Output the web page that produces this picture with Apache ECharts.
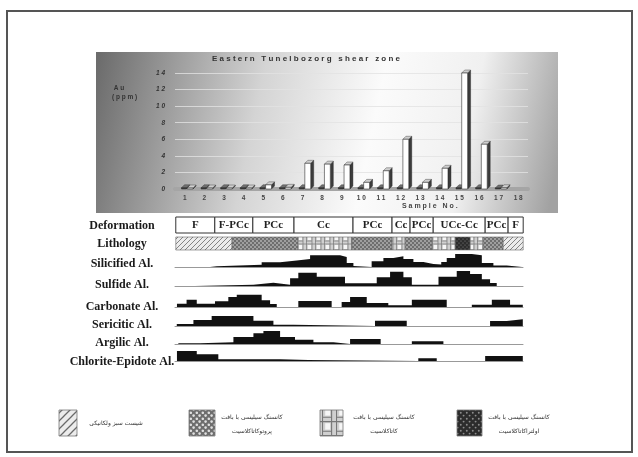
<!DOCTYPE html>
<html>
<head>
<meta charset="utf-8">
<script src="https://cdn.jsdelivr.net/npm/echarts@6/dist/echarts.min.js"></script>
<style>
html, body { margin: 0; padding: 0; background: #fff; }
#chart { width: 638px; height: 457px; }
</style>
</head>
<body>
<div id="chart"></div>
<script>
// --- data ---
var samples = ['1', '2', '3', '4', '5', '6', '7', '8', '9', '10', '11', '12', '13', '14', '15', '16', '17', '18']
var auValues = [0.1, 0.1, 0.1, 0.1, 0.5, 0.2, 3.1, 3.0, 2.9, 0.8, 2.2, 6.0, 0.8, 2.5, 14.0, 5.4, 0.15, null]
var baseValues = [0.15, 0.15, 0.15, 0.15, 0.15, 0.15, 0.15, 0.15, 0.15, 0.15, 0.15, 0.15, 0.15, 0.15, 0.15, 0.15, 0.1, null]

// zones along the section, in sample-number units: [from, to, name]
var deformation = [
  [0.54, 2.53, 'F'], [2.53, 4.47, 'F-PCc'], [4.47, 6.57, 'PCc'], [6.57, 9.58, 'Cc'],
  [9.58, 11.57, 'PCc'], [11.57, 12.49, 'Cc'], [12.49, 13.67, 'PCc'], [13.67, 16.32, 'UCc-Cc'],
  [16.32, 17.49, 'PCc'], [17.49, 18.26, 'F']
]
var lithology = [
  [0.54, 3.41, 'schist'], [3.41, 6.78, 'proto'], [6.78, 9.53, 'cata'], [9.53, 11.57, 'proto'],
  [11.57, 12.24, 'cata'], [12.24, 13.62, 'proto'], [13.62, 14.79, 'cata'], [14.79, 15.56, 'ultra'],
  [15.56, 16.22, 'cata'], [16.22, 17.24, 'proto'], [17.24, 18.26, 'schist']
]

// alteration intensity profiles: [position, intensity] (step starts)
var silicified = [[0.59, 0], [2.29, 0.7], [2.63, 2.3], [4.92, 4.7], [5.86, 6.5], [6.71, 8], [7.39, 11.7], [8.92, 10],
  [9.26, 4], [9.6, 1], [9.68, 0], [10.53, 5.7], [11.13, 9], [11.64, 10.7], [12.15, 8], [12.66, 5], [13.17, 3],
  [13.68, 2.5], [14.08, 5], [14.36, 9], [14.79, 13], [15.64, 11.7], [16.15, 4], [16.74, 1.5], [17.42, 0], [18.2, 0]]
var sulfide = [[0.67, 0], [1.52, 1.3], [4.5, 3.3], [5.52, 1.3], [6.37, 7.7], [6.79, 13.3], [7.73, 9.3], [9.17, 2.7],
  [10.79, 8.7], [11.47, 14.3], [12.15, 8.7], [12.58, 1.3], [13.94, 9.3], [14.87, 15], [15.55, 12], [16.15, 6.7],
  [16.57, 3], [16.91, 0], [18.2, 0]]
var carbonate = [[0.6, 3.3], [1.09, 7.3], [1.61, 3.3], [2.54, 5.7], [3.22, 10], [3.65, 12.3], [4.92, 6.7], [5.35, 3],
  [5.69, 0], [6.79, 6], [8.49, 0], [9.0, 5], [9.43, 10], [10.28, 4], [11.38, 1.7], [12.58, 7.3], [14.36, 0],
  [15.64, 2.3], [16.66, 7.3], [17.59, 2.3], [18.24, 2.3]]
var sericitic = [[0.59, 2], [1.44, 6], [2.37, 10], [4.5, 5.3], [5.52, 1.3], [6.54, 0], [10.7, 5.3], [12.32, 0],
  [16.57, 5], [17.42, 6.7], [18.24, 6.7]]
var argilic = [[0.67, 0.7], [1.78, 1.7], [3.48, 7], [4.5, 10.7], [5.01, 13], [5.86, 7], [6.62, 4.3], [7.56, 1.7],
  [8.58, 0], [9.43, 5], [10.99, 0], [12.58, 2.7], [14.19, 0], [18.2, 0]]
var chlorite = [[0.6, 10], [1.61, 6.7], [2.71, 1.7], [5.86, 1], [7.3, 0], [12.91, 2.7], [13.85, 0], [16.32, 5], [18.24, 5]]

var profiles = [silicified, sulfide, carbonate, sericitic, argilic, chlorite]
var rowNames = ['Deformation', 'Lithology', 'Silicified Al.', 'Sulfide Al.', 'Carbonate Al.', 'Sericitic Al.', 'Argilic Al.', 'Chlorite-Epidote Al.']
var legendItems = [
  ['schist', ['شیست سبز ولکانیکی']],
  ['proto', ['کانسنگ سیلیسی با بافت', 'پروتوکاتاکلاسیت']],
  ['cata', ['کانسنگ سیلیسی با بافت', 'کاتاکلاسیت']],
  ['ultra', ['کانسنگ سیلیسی با بافت', 'اولتراکاتاکلاسیت']]
]

// --- layout ---
var plotLeft = 175
var plotWidth = 348
var profileBase = [267, 286, 307, 326, 344, 361]
var labelY = [226, 244, 264, 285, 307, 325, 343, 362]
var legendBox = [[59, 18], [189, 26], [320, 23], [457, 25]]
var legendTextX = [116, 252, 384, 519]

function makePattern (kind, s) {
  var c = document.createElement('canvas')
  var ctx = c.getContext('2d')
  var n
  if (kind === 'schist') {
    n = 5 * s
    c.width = c.height = n
    ctx.fillStyle = '#ececec'
    ctx.fillRect(0, 0, n, n)
    ctx.strokeStyle = '#6a6a6a'
    ctx.lineWidth = 0.8 * s
    ctx.beginPath()
    ctx.moveTo(0, n); ctx.lineTo(n, 0)
    ctx.moveTo(-1, 1); ctx.lineTo(1, -1)
    ctx.moveTo(n - 1, n + 1); ctx.lineTo(n + 1, n - 1)
    ctx.stroke()
  } else if (kind === 'proto') {
    n = 4 * s
    c.width = c.height = n
    ctx.fillStyle = '#6e6e6e'
    ctx.fillRect(0, 0, n, n)
    ctx.fillStyle = '#e0e0e0'
    ;[[1, 1], [3, 3]].forEach(function (p) {
      ctx.beginPath()
      ctx.arc(p[0] * s, p[1] * s, 0.8 * s, 0, Math.PI * 2)
      ctx.fill()
    })
  } else if (kind === 'cata') {
    n = 9 * s
    c.width = c.height = n
    ctx.fillStyle = '#d0d0d0'
    ctx.fillRect(0, 0, n, n)
    ctx.fillStyle = '#f6f6f6'
    ctx.fillRect(2 * s, 2 * s, 3 * s, 4 * s)
    ctx.strokeStyle = '#777'
    ctx.lineWidth = 0.7 * s
    ctx.beginPath()
    ctx.moveTo(0.5, 0); ctx.lineTo(0.5, n)
    ctx.moveTo(6 * s, 0); ctx.lineTo(6 * s, n)
    ctx.moveTo(0, 1 * s); ctx.lineTo(n, 1 * s)
    ctx.moveTo(0, 7 * s); ctx.lineTo(6 * s, 7 * s)
    ctx.stroke()
  } else {
    n = 4 * s
    c.width = c.height = n
    ctx.fillStyle = '#2c2c2c'
    ctx.fillRect(0, 0, n, n)
    ctx.fillStyle = '#8c8c8c'
    ;[[1, 1], [3, 3]].forEach(function (p) {
      ctx.beginPath()
      ctx.arc(p[0] * s, p[1] * s, 0.6 * s, 0, Math.PI * 2)
      ctx.fill()
    })
  }
  return { image: c, repeat: 'repeat' }
}

var patterns = {}
var bigPatterns = {}
;['schist', 'proto', 'cata', 'ultra'].forEach(function (k) {
  patterns[k] = makePattern(k, 1)
  bigPatterns[k] = makePattern(k, 1.6)
})

function spaced (s) {
  return String(s).split('').join(' ')
}

function bar3d (offset, widthRatio, front, side, top) {
  return function (params, api) {
    var v = api.value(1)
    var p = api.coord([api.value(0), v])
    var b = api.coord([api.value(0), 0])
    var band = api.size([1, 0])[0]
    var w = band * widthRatio
    var x0 = p[0] + band * offset - w / 2
    var x1 = x0 + w
    var ty = Math.min(p[1], b[1] - 1)
    var by = b[1]
    var d = 3
    return {
      type: 'group',
      children: [
        { type: 'polygon', shape: { points: [[x1, ty], [x1 + d, ty - d], [x1 + d, by - d], [x1, by]] }, style: { fill: side, stroke: '#222', lineWidth: 0.4 } },
        { type: 'polygon', shape: { points: [[x0, ty], [x0 + d, ty - d], [x1 + d, ty - d], [x1, ty]] }, style: { fill: top, stroke: '#333', lineWidth: 0.4 } },
        { type: 'rect', shape: { x: x0, y: ty, width: w, height: by - ty }, style: { fill: front, stroke: '#333', lineWidth: 0.6 } }
      ]
    }
  }
}

var grids = [{ left: plotLeft, top: 73, width: 353, height: 116 }]
var xAxes = [{
  type: 'category', data: samples, gridIndex: 0,
  axisLine: { lineStyle: { color: '#a5a5a5', width: 4 } },
  axisTick: { show: false },
  axisLabel: { margin: 6, fontSize: 6.5, fontWeight: 'bold', color: '#444', formatter: spaced }
}]
var yAxes = [{
  type: 'value', gridIndex: 0, min: 0, max: 14, interval: 2,
  axisLine: { show: false }, axisTick: { show: false },
  axisLabel: { margin: 10, fontSize: 6.5, fontWeight: 'bold', fontStyle: 'italic', color: '#333', formatter: spaced },
  splitLine: { lineStyle: { color: '#e2e2e2', width: 0.8 } }
}]

// deformation and lithology strips + six profile rows share one x scale
var stripTops = [[217, 16], [237, 13]]
profileBase.forEach(function (b) { stripTops.push([b - 15, 15]) })
stripTops.forEach(function (t, i) {
  grids.push({ left: plotLeft, top: t[0], width: plotWidth, height: t[1] })
  xAxes.push({
    type: 'value', gridIndex: i + 1, min: 0.5, max: 18.25,
    axisLine: { show: i > 1, lineStyle: { color: '#999', width: 1 } },
    axisTick: { show: false }, axisLabel: { show: false }, splitLine: { show: false }
  })
  yAxes.push({ type: 'value', gridIndex: i + 1, min: 0, max: i > 1 ? 15 : 1, show: false })
})

var series = [
  {
    type: 'custom', xAxisIndex: 0, yAxisIndex: 0, animation: false,
    renderItem: bar3d(-0.04, 0.26, '#3a3a3a', '#1e1e1e', '#707070'),
    encode: { x: 0, y: 1 },
    data: baseValues.map(function (v, i) { return v == null ? null : [i, v] }).filter(Boolean)
  },
  {
    type: 'custom', xAxisIndex: 0, yAxisIndex: 0, animation: false,
    renderItem: bar3d(0.27, 0.3, '#ffffff', '#3c3c3c', '#cfcfcf'),
    encode: { x: 0, y: 1 },
    data: auValues.map(function (v, i) { return v == null ? null : [i, v] }).filter(Boolean)
  },
  {
    type: 'custom', xAxisIndex: 1, yAxisIndex: 1, animation: false,
    encode: { x: [0, 1] },
    data: deformation,
    renderItem: function (params, api) {
      var a = api.coord([api.value(0), 1])
      var b = api.coord([api.value(1), 0])
      return {
        type: 'rect',
        shape: { x: a[0], y: a[1], width: b[0] - a[0], height: b[1] - a[1] },
        style: { fill: '#fff', stroke: '#333', lineWidth: 1 },
        textContent: {
          style: {
            text: deformation[params.dataIndex][2],
            fill: '#222', font: 'bold 11px "Liberation Serif"'
          }
        },
        textConfig: { position: 'inside' }
      }
    }
  },
  {
    type: 'custom', xAxisIndex: 2, yAxisIndex: 2, animation: false,
    encode: { x: [0, 1] },
    data: lithology,
    renderItem: function (params, api) {
      var a = api.coord([api.value(0), 1])
      var b = api.coord([api.value(1), 0])
      return {
        type: 'rect',
        shape: { x: a[0], y: a[1], width: b[0] - a[0], height: b[1] - a[1] },
        style: { fill: patterns[lithology[params.dataIndex][2]], stroke: '#666', lineWidth: 0.6 }
      }
    }
  }
]
profiles.forEach(function (p, i) {
  series.push({
    type: 'line', xAxisIndex: i + 3, yAxisIndex: i + 3, data: p,
    step: 'end', symbol: 'none', animation: false, silent: true,
    lineStyle: { color: '#111', width: 0 },
    areaStyle: { color: '#111', opacity: 1 }
  })
})

var graphics = [
  { type: 'rect', z: -20, silent: true, shape: { x: 7, y: 11, width: 625, height: 441 }, style: { fill: '#fff', stroke: '#555', lineWidth: 2 } },
  {
    type: 'rect', z: -10, silent: true, shape: { x: 96, y: 52, width: 462, height: 161 },
    style: {
      fill: new echarts.graphic.LinearGradient(0, 0.1, 1, 0.7, [
        { offset: 0, color: '#6c6c6c' }, { offset: 0.35, color: '#d4d4d4' },
        { offset: 0.6, color: '#fbfbfb' }, { offset: 0.8, color: '#f0f0f0' }, { offset: 1, color: '#a2a2a2' }
      ])
    }
  },
  { type: 'text', z: 10, left: 212, top: 55, style: { text: 'E a s t e r n   T u n e l b o z o r g   s h e a r   z o n e', font: 'bold 8px "Liberation Sans"', fill: '#333' } },
  { type: 'text', z: 10, left: 112, top: 84, style: { text: ' A u\n( p p m )', font: 'bold 6.5px "Liberation Sans"', fill: '#333', lineHeight: 9, align: 'center' } },
  { type: 'text', z: 10, left: 402, top: 203, style: { text: 'S a m p l e   N o .', font: 'bold 7px "Liberation Sans"', fill: '#444' } }
]
rowNames.forEach(function (name, i) {
  graphics.push({
    type: 'text', z: 10, x: 122, y: labelY[i],
    style: { text: name, font: 'bold 12px "Liberation Serif"', fill: '#1a1a1a', align: 'center', verticalAlign: 'middle' }
  })
})
legendItems.forEach(function (item, i) {
  graphics.push({
    type: 'rect', z: 10, shape: { x: legendBox[i][0], y: 410, width: legendBox[i][1], height: 26 },
    style: { fill: bigPatterns[item[0]], stroke: '#777', lineWidth: 0.8 }
  })
  var lines = item[1]
  lines.forEach(function (t, j) {
    graphics.push({
      type: 'text', z: 10, x: legendTextX[i], y: lines.length === 1 ? 423 : 417 + j * 14,
      style: { text: t, font: '6px "DejaVu Sans"', fill: '#333', align: 'center', verticalAlign: 'middle' }
    })
  })
})

var chart = echarts.init(document.getElementById('chart'))
chart.setOption({
  animation: false,
  backgroundColor: '#fff',
  grid: grids,
  xAxis: xAxes,
  yAxis: yAxes,
  series: series,
  graphic: { elements: graphics }
})
</script>
</body>
</html>
